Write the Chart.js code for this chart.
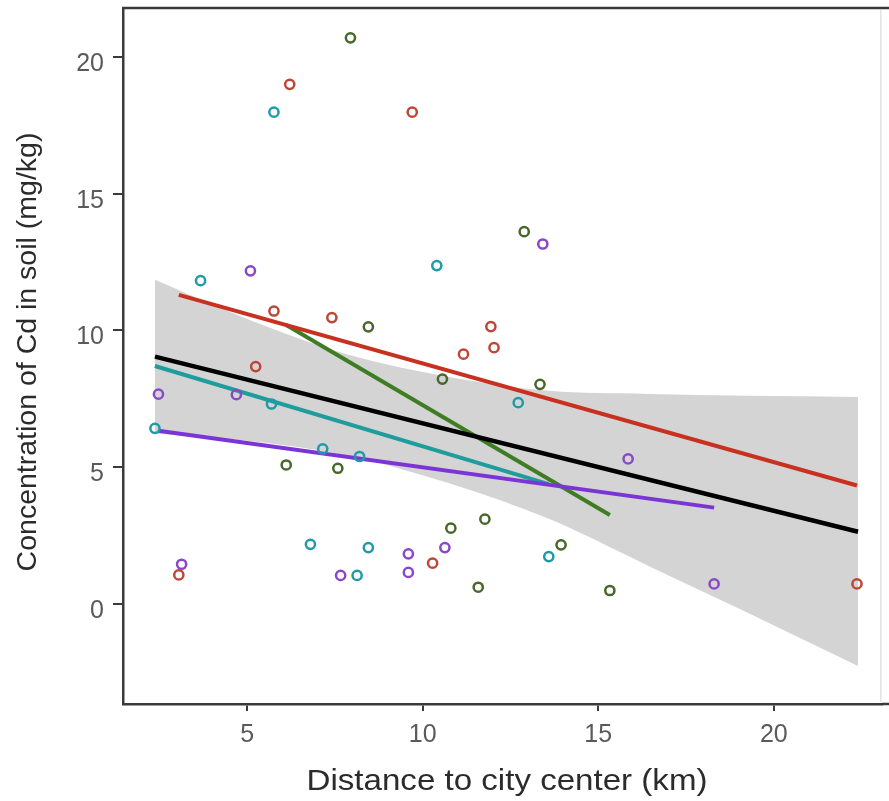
<!DOCTYPE html>
<html>
<head>
<meta charset="utf-8">
<title>Cd concentration vs distance to city center</title>
<script src="https://cdn.jsdelivr.net/npm/chart.js@4.4.1/dist/chart.umd.min.js"></script>
<style>
  html, body { margin: 0; padding: 0; background: #ffffff; }
  canvas { display: block; }
</style>
</head>
<body>
<canvas id="chart" width="889" height="801"></canvas>
<script>
// Sampling sites grouped by district: distance (km) and soil Cd (mg/kg)
const redX    = [6.21, 9.70, 5.76, 7.41, 5.24, 11.94, 12.03, 11.16, 3.05, 10.28, 22.37];
const redY    = [19.0, 17.98, 10.71, 10.47, 8.68, 10.14, 9.37, 9.13, 1.06, 1.49, 0.73];

const greenX  = [7.94, 12.89, 8.45, 10.56, 13.34, 6.11, 7.58, 11.77, 10.80, 13.94, 11.58, 15.33];
const greenY  = [20.7, 13.61, 10.13, 8.22, 8.03, 5.08, 4.96, 3.10, 2.77, 2.16, 0.61, 0.49];

const tealX   = [5.76, 3.67, 10.40, 2.37, 5.69, 7.15, 8.20, 12.72, 6.80, 8.45, 8.13, 13.59];
const tealY   = [17.98, 11.82, 12.37, 6.42, 7.31, 5.67, 5.39, 7.36, 2.18, 2.06, 1.04, 1.73];

const purpleX = [5.09, 13.42, 2.47, 4.69, 3.13, 7.66, 9.59, 9.59, 10.63, 15.85, 18.30];
const purpleY = [12.18, 13.16, 7.67, 7.65, 1.45, 1.04, 1.83, 1.15, 2.06, 5.30, 0.73];

// Fitted linear trends (end points) per district and for all sites
const redFitX    = [3.05, 22.37];  const redFitY    = [11.30, 4.33];
const greenFitX  = [6.11, 15.33];  const greenFitY  = [10.20, 3.25];
const tealFitX   = [2.37, 13.59];  const tealFitY   = [8.70, 4.38];
const purpleFitX = [2.47, 18.30];  const purpleFitY = [6.33, 3.52];
const allFitX    = [2.37, 22.40];  const allFitY    = [9.04, 2.64];

// Confidence band of the overall trend
const bandX     = [2.37, 5.07, 7.91, 10.75, 13.59, 16.43, 19.27, 22.40];
const bandUpper = [11.85, 10.38, 9.10, 8.30, 7.79, 7.68, 7.61, 7.57];
const bandLower = [6.22, 5.96, 5.41, 4.41, 3.11, 1.39, -0.33, -2.27];

// Axis ticks
const xTickValues = [5, 10, 15, 20];
const yTickValues = [0, 5, 10, 15, 20];

const xTitle = 'Distance to city center (km)';
const yTitle = 'Concentration of Cd in soil (mg/kg)';

function pts(xs, ys) { return xs.map((x, i) => ({ x: x, y: ys[i] })); }

function fitLine(xs, ys, color, width, order) {
  return {
    data: pts(xs, ys), showLine: true, fill: false,
    borderColor: color, borderWidth: width, pointRadius: 0,
    pointHoverRadius: 0, order: order
  };
}

function sites(xs, ys, color) {
  return {
    data: pts(xs, ys), showLine: false,
    pointStyle: 'circle', pointRadius: 4.6, pointBorderWidth: 2.5,
    pointBorderColor: color, pointBackgroundColor: 'rgba(255,255,255,0)',
    order: 1
  };
}

// Frame edges and axis titles
const frameAndTitles = {
  id: 'frameAndTitles',
  afterDraw(chart) {
    const ctx = chart.ctx, a = chart.chartArea;
    ctx.save();
    ctx.strokeStyle = '#3a3a3a';
    ctx.lineWidth = 2.5;
    ctx.beginPath();
    ctx.moveTo(a.left - 1, a.top);
    ctx.lineTo(chart.width, a.top);
    ctx.moveTo(a.right, a.bottom);
    ctx.lineTo(chart.width, a.bottom);
    ctx.stroke();
    ctx.strokeStyle = '#e2e2e2';
    ctx.lineWidth = 1.5;
    ctx.beginPath();
    ctx.moveTo(a.right - 1, a.top + 2);
    ctx.lineTo(a.right - 1, a.bottom - 2);
    ctx.stroke();

    ctx.fillStyle = '#2b2b2b';
    ctx.textAlign = 'center';
    ctx.textBaseline = 'alphabetic';
    ctx.font = '30px "Liberation Sans", Arial, sans-serif';
    const w = ctx.measureText(xTitle).width;
    ctx.save();
    ctx.translate(507, 790);
    ctx.scale(401 / w, 1);
    ctx.fillText(xTitle, 0, 0);
    ctx.restore();

    ctx.font = '28.5px "Liberation Sans", Arial, sans-serif';
    ctx.textBaseline = 'middle';
    ctx.save();
    ctx.translate(28, 352);
    ctx.rotate(-Math.PI / 2);
    ctx.fillText(yTitle, 0, 0);
    ctx.restore();
    ctx.restore();
  }
};

Chart.defaults.font.family = '"Liberation Sans", Arial, sans-serif';

new Chart(document.getElementById('chart'), {
  type: 'scatter',
  data: {
    datasets: [
      { data: pts(bandX, bandLower), showLine: true, fill: false, borderWidth: 0,
        borderColor: 'rgba(0,0,0,0)', pointRadius: 0, cubicInterpolationMode: 'monotone', order: 20 },
      { data: pts(bandX, bandUpper), showLine: true, fill: '-1', borderWidth: 0,
        borderColor: 'rgba(0,0,0,0)', backgroundColor: '#d4d4d4', pointRadius: 0,
        cubicInterpolationMode: 'monotone', order: 19 },
      fitLine(tealFitX, tealFitY, '#1f9c9c', 4, 7),
      fitLine(greenFitX, greenFitY, '#3f7d25', 4, 6),
      fitLine(redFitX, redFitY, '#c8301f', 4, 5),
      fitLine(purpleFitX, purpleFitY, '#7b35d6', 4, 4),
      fitLine(allFitX, allFitY, '#000000', 4.5, 3),
      sites(redX, redY, '#bf4536'),
      sites(greenX, greenY, '#48672a'),
      sites(tealX, tealY, '#1f9aa8'),
      sites(purpleX, purpleY, '#8a48c9')
    ]
  },
  options: {
    responsive: false,
    devicePixelRatio: 1,
    animation: false,
    layout: { padding: { left: 0, top: 8, right: 5, bottom: 0 } },
    plugins: {
      legend: { display: false },
      tooltip: { enabled: false },
      filler: { drawTime: 'beforeDatasetsDraw' }
    },
    scales: {
      x: {
        type: 'linear', min: 1.46, max: 23.08,
        afterBuildTicks: s => { s.ticks = xTickValues.map(v => ({ value: v })); },
        afterFit: s => { s.height = 97; s.paddingLeft = 0; s.paddingRight = 0; },
        ticks: { font: { size: 25 }, color: '#5a5a5a', padding: 9, maxRotation: 0,
                 callback: v => String(v) },
        grid: { drawOnChartArea: false, drawTicks: true, tickLength: 7, color: '#3a3a3a', lineWidth: 2 },
        border: { display: true, color: '#3a3a3a', width: 2.5 }
      },
      y: {
        type: 'linear', min: -3.66, max: 21.79,
        afterBuildTicks: s => { s.ticks = yTickValues.map(v => ({ value: v })); },
        afterFit: s => { s.width = 123; s.paddingTop = 0; s.paddingBottom = 0; },
        ticks: { font: { size: 25 }, color: '#5a5a5a', padding: 9, labelOffset: 7,
                 callback: v => String(v) },
        grid: { drawOnChartArea: false, drawTicks: true, tickLength: 10, color: '#3a3a3a', lineWidth: 2 },
        border: { display: true, color: '#3a3a3a', width: 2.5 }
      }
    }
  },
  plugins: [frameAndTitles]
});
</script>
</body>
</html>
